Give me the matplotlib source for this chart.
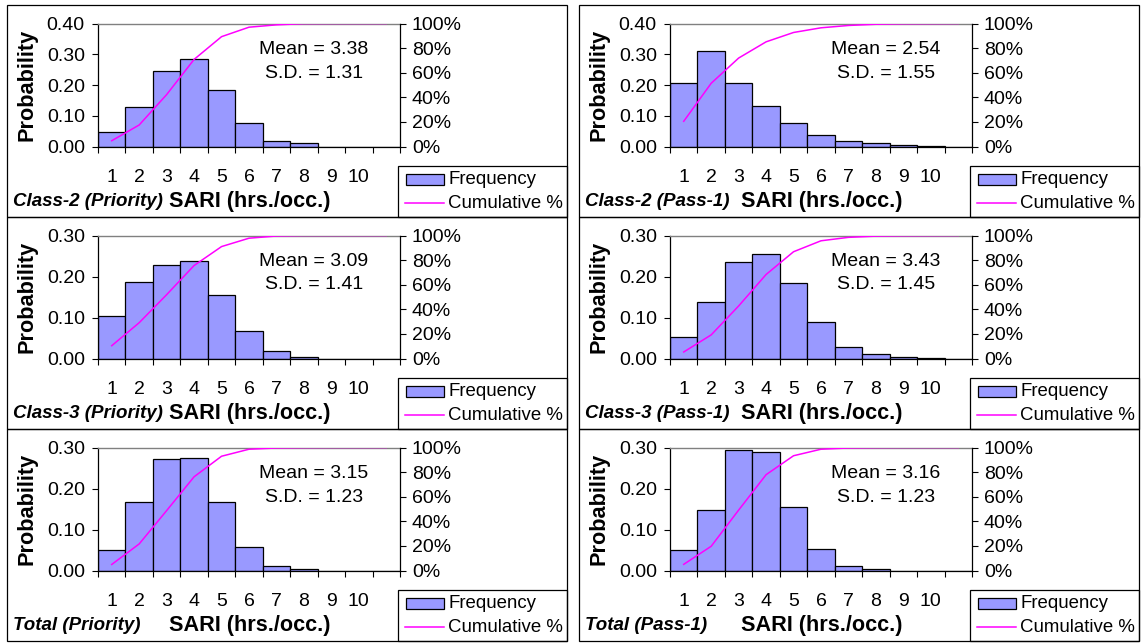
import matplotlib
matplotlib.use("Agg")
import matplotlib.pyplot as plt
from matplotlib.patches import Rectangle
from matplotlib.lines import Line2D
from matplotlib.ticker import FuncFormatter

plt.rcParams['font.family'] = ['Liberation Sans', 'DejaVu Sans']

# ---------------- data ----------------
bin_labels = ["1", "2", "3", "4", "5", "6", "7", "8", "9", "10", ""]

titles = ["Class-2 (Priority)", "Class-2 (Pass-1)",
          "Class-3 (Priority)", "Class-3 (Pass-1)",
          "Total (Priority)", "Total (Pass-1)"]
xlabel = "SARI (hrs./occ.)"
means = [3.38, 2.54, 3.09, 3.43, 3.15, 3.16]
sds = [1.31, 1.55, 1.41, 1.45, 1.23, 1.23]
ymax = [0.40, 0.40, 0.30, 0.30, 0.30, 0.30]

freq_c2_pri = [0.047, 0.128, 0.247, 0.286, 0.185, 0.077, 0.019, 0.010, 0.0, 0.0, 0.0]
freq_c2_p1 = [0.205, 0.309, 0.205, 0.132, 0.076, 0.038, 0.019, 0.010, 0.004, 0.001, 0.0]
freq_c3_pri = [0.104, 0.187, 0.228, 0.237, 0.154, 0.068, 0.018, 0.004, 0.0, 0.0, 0.0]
freq_c3_p1 = [0.053, 0.139, 0.235, 0.256, 0.185, 0.089, 0.028, 0.010, 0.003, 0.001, 0.0]
freq_tot_pri = [0.049, 0.167, 0.271, 0.275, 0.167, 0.057, 0.010, 0.003, 0.0, 0.0, 0.0]
freq_tot_p1 = [0.050, 0.147, 0.294, 0.288, 0.154, 0.053, 0.010, 0.003, 0.0, 0.0, 0.0]

cum_c2_pri = [4.7, 17.5, 42.2, 70.8, 89.3, 97.0, 98.9, 99.9, 100, 100, 100]
cum_c2_p1 = [20.5, 51.4, 71.9, 85.1, 92.7, 96.5, 98.4, 99.4, 99.8, 99.9, 100]
cum_c3_pri = [10.4, 29.1, 51.9, 75.6, 91.0, 97.8, 99.6, 100, 100, 100, 100]
cum_c3_p1 = [5.3, 19.2, 42.7, 68.3, 86.8, 95.7, 98.5, 99.5, 99.8, 99.9, 100]
cum_tot_pri = [4.9, 21.6, 48.7, 76.2, 92.9, 98.6, 99.6, 99.9, 100, 100, 100]
cum_tot_p1 = [5.0, 19.7, 49.1, 77.9, 93.3, 98.6, 99.6, 99.9, 100, 100, 100]

freqs = [freq_c2_pri, freq_c2_p1, freq_c3_pri, freq_c3_p1, freq_tot_pri, freq_tot_p1]
cums = [cum_c2_pri, cum_c2_p1, cum_c3_pri, cum_c3_p1, cum_tot_pri, cum_tot_p1]

# ---------------- styling ----------------
W, H = 1147, 643
BAR_COLOR = "#9999FF"
LINE_COLOR = "#FF00FF"
TICK_FS = 14
TEXT_FS = 14
LEG_FS = 13.4
BOLD_FS = 15.6
TITLE_FS = 13.5

fig = plt.figure(figsize=(W / 100, H / 100), dpi=100)


def fx(x):
    return x / W


def fy(y):
    return 1 - y / H


col_left = [7, 579]
row_top = [5, 217, 429]
panel_w = 560
panel_h = 212

for idx in range(6):
    r, c = divmod(idx, 2)
    L = col_left[c]
    T = row_top[r]

    # panel border
    fig.patches.append(Rectangle((fx(L), fy(T + panel_h)), panel_w / W, panel_h / H,
                                 transform=fig.transFigure, fill=False,
                                 edgecolor="black", lw=0.9, zorder=0))

    ax_l, ax_t, ax_b = L + 91, T + 18.5, T + 141.5
    ax_w = 302
    ax = fig.add_axes([fx(ax_l), fy(ax_b), ax_w / W, (ax_b - ax_t) / H])
    ax.patch.set_alpha(0)
    n = len(freqs[idx])
    centers = list(range(n))
    ax.bar(centers, freqs[idx], width=1.0, color=BAR_COLOR,
           edgecolor="black", linewidth=0.9, zorder=2)
    ax.set_xlim(-0.5, n - 0.5)
    ax.set_ylim(0, ymax[idx])
    steps = int(round(ymax[idx] / 0.1))
    ax.set_yticks([i * 0.1 for i in range(steps + 1)])
    ax.yaxis.set_major_formatter(FuncFormatter(lambda v, p: f"{v:.2f}"))
    ax.set_xticks([i - 0.5 for i in range(n + 1)])
    ax.set_xticklabels([])
    ax.set_xticks(centers, minor=True)
    ax.set_xticklabels(bin_labels, minor=True)
    ax.tick_params(axis="x", which="major", direction="out", length=4.5, width=0.8)
    ax.tick_params(axis="x", which="minor", length=0, pad=16, labelsize=TICK_FS)
    ax.tick_params(axis="y", direction="out", length=4.5, width=0.8, pad=5,
                   labelsize=TICK_FS)
    for s in ["left", "bottom"]:
        ax.spines[s].set_color("black")
        ax.spines[s].set_linewidth(0.9)
    ax.spines["top"].set_color("#808080")
    ax.spines["top"].set_linewidth(1.0)
    ax.spines["right"].set_visible(False)

    ax2 = ax.twinx()
    ax2.plot(centers, cums[idx], color=LINE_COLOR, lw=1.1, zorder=3)
    ax2.set_ylim(0, 100)
    ax2.set_yticks([0, 20, 40, 60, 80, 100])
    ax2.yaxis.set_major_formatter(FuncFormatter(lambda v, p: f"{v:.0f}%"))
    ax2.tick_params(axis="y", direction="out", length=4.5, width=0.8, pad=4,
                    labelsize=TICK_FS)
    for s in ["top", "left", "bottom"]:
        ax2.spines[s].set_visible(False)
    ax2.spines["right"].set_color("black")
    ax2.spines["right"].set_linewidth(0.9)

    # y axis title
    fig.text(fx(L + 20), fy((ax_t + ax_b) / 2), "Probability", rotation=90,
             ha="center", va="center", fontsize=BOLD_FS, fontweight="bold")

    # mean / sd
    fig.text(fx(L + 307), fy(T + 44), f"Mean = {means[idx]:.2f}",
             ha="center", va="center", fontsize=TEXT_FS)
    fig.text(fx(L + 307), fy(T + 68), f"S.D. = {sds[idx]:.2f}",
             ha="center", va="center", fontsize=TEXT_FS)

    # titles
    fig.text(fx(L + 6), fy(T + 197), titles[idx], ha="left", va="center",
             fontsize=TITLE_FS, fontweight="bold", fontstyle="italic")
    fig.text(fx(ax_l + ax_w / 2 + 1), fy(T + 197), xlabel, ha="center", va="center",
             fontsize=BOLD_FS, fontweight="bold")

    # legend box
    lg_l, lg_t = L + 391, T + 161
    fig.patches.append(Rectangle((fx(lg_l), fy(T + panel_h)), (L + panel_w - lg_l) / W,
                                 (T + panel_h - lg_t) / H, transform=fig.transFigure,
                                 fill=False, edgecolor="black", lw=0.9, zorder=1))
    fig.patches.append(Rectangle((fx(L + 398.5), fy(T + 180)), 38 / W, 11 / H,
                                 transform=fig.transFigure, facecolor=BAR_COLOR,
                                 edgecolor="black", lw=0.9, zorder=2))
    fig.text(fx(L + 441), fy(T + 174.5), "Frequency", ha="left", va="center",
             fontsize=LEG_FS)
    fig.lines.append(Line2D([fx(L + 398), fx(L + 437)], [fy(T + 198), fy(T + 198)],
                            transform=fig.transFigure, color=LINE_COLOR, lw=1.1))
    fig.text(fx(L + 441), fy(T + 198), "Cumulative %", ha="left", va="center",
             fontsize=LEG_FS)

fig.savefig("out.png", dpi=100, facecolor="white")
